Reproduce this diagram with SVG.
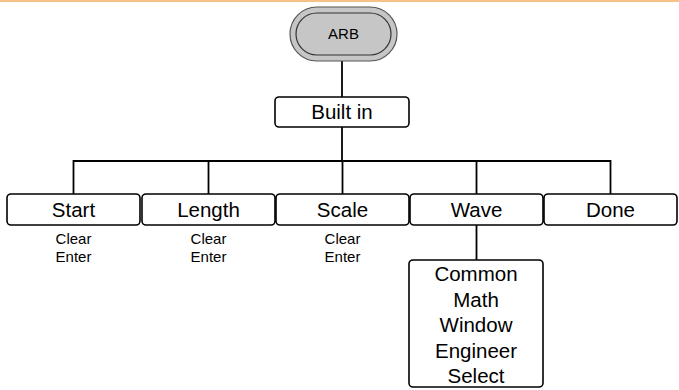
<svg xmlns="http://www.w3.org/2000/svg" width="679" height="390" viewBox="0 0 679 390">
<style>
.box{fill:#fff;stroke:#000;stroke-width:1.6}
.big{font-family:"Liberation Sans",Arial,sans-serif;font-size:20.5px;fill:#000;text-anchor:middle}
.small{font-family:"Liberation Sans",Arial,sans-serif;font-size:15px;fill:#000;text-anchor:middle}
.conn{fill:none;stroke:#000;stroke-width:1.8}
</style>
<rect x="0" y="0" width="679" height="2" fill="#F8C286"/>
<g id="connectors">
<line class="conn" x1="342" y1="61" x2="342" y2="97"/>
<line class="conn" x1="342" y1="127" x2="342" y2="161"/>
<polyline class="conn" points="73.5,194 73.5,161 610.5,161 610.5,194"/>
<line class="conn" x1="208.5" y1="161" x2="208.5" y2="194"/>
<line class="conn" x1="342.5" y1="161" x2="342.5" y2="194"/>
<line class="conn" x1="476.5" y1="161" x2="476.5" y2="194"/>
<line class="conn" x1="476.5" y1="225" x2="476.5" y2="260"/>
</g>
<g id="arb">
<rect x="290" y="7" width="107" height="54" rx="27" fill="#C6C6C6" stroke="#555" stroke-width="1.2"/>
<rect x="296" y="13" width="95" height="42" rx="21" fill="#C6C6C6" stroke="#333" stroke-width="1.2"/>
<text class="small" x="343.5" y="38.5">ARB</text>
</g>
<g id="builtin">
<rect class="box" x="275" y="97" width="134" height="30" rx="4"/>
<text class="big" x="342" y="119">Built in</text>
</g>
<g id="start">
<rect class="box" x="7" y="194" width="133" height="31" rx="4"/>
<text class="big" x="73.5" y="217">Start</text>
<text class="small" x="73.5" y="244">Clear</text>
<text class="small" x="73.5" y="262">Enter</text>
</g>
<g id="length">
<rect class="box" x="142" y="194" width="133" height="31" rx="4"/>
<text class="big" x="208.5" y="217">Length</text>
<text class="small" x="208.5" y="244">Clear</text>
<text class="small" x="208.5" y="262">Enter</text>
</g>
<g id="scale">
<rect class="box" x="276" y="194" width="133" height="31" rx="4"/>
<text class="big" x="342.5" y="217">Scale</text>
<text class="small" x="342.5" y="244">Clear</text>
<text class="small" x="342.5" y="262">Enter</text>
</g>
<g id="wave">
<rect class="box" x="410" y="194" width="133" height="31" rx="4"/>
<text class="big" x="476.5" y="217">Wave</text>
</g>
<g id="done">
<rect class="box" x="544" y="194" width="133" height="31" rx="4"/>
<text class="big" x="610.5" y="217">Done</text>
</g>
<g id="wavelist">
<rect class="box" x="409" y="260" width="134" height="127" rx="4"/>
<text class="big" x="476" y="281">Common</text>
<text class="big" x="476" y="306.5">Math</text>
<text class="big" x="476" y="332">Window</text>
<text class="big" x="476" y="357.5">Engineer</text>
<text class="big" x="476" y="383">Select</text>
</g>
</svg>
